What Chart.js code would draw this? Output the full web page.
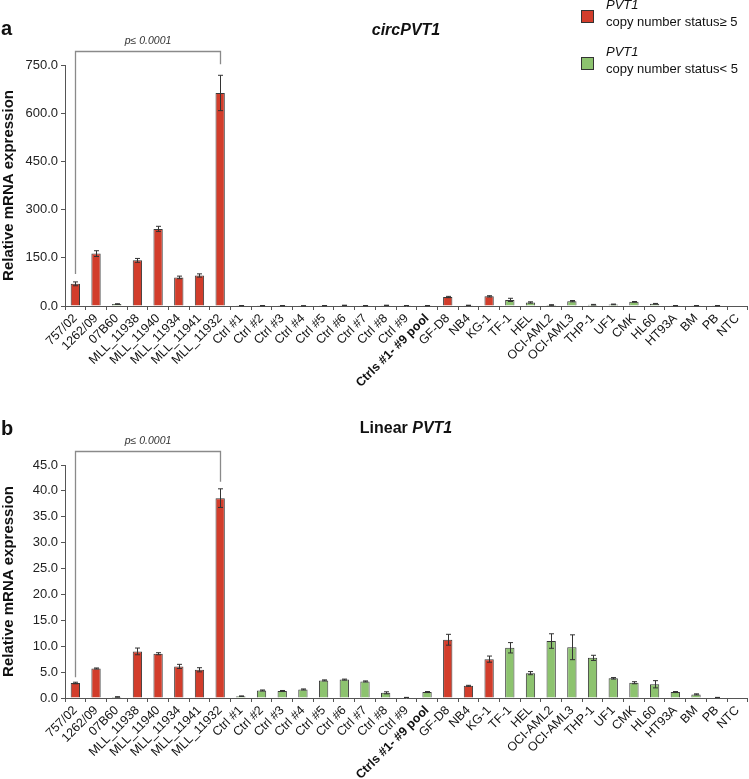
<!DOCTYPE html>
<html>
<head>
<meta charset="utf-8">
<script src="https://cdn.jsdelivr.net/npm/chart.js@4.4.1/dist/chart.umd.min.js"></script>
<style>
  body { margin: 0; background: #fff; font-family: "Liberation Sans", Arial, sans-serif; color: #111; }
  #wrap { position: relative; width: 749px; height: 779px; overflow: hidden; }
  canvas { position: absolute; left: 0; }
  .txt { position: absolute; white-space: nowrap; }
  .panel { font-weight: bold; font-size: 20px; }
  .title { font-weight: bold; font-size: 16px; width: 200px; text-align: center; }
  .pval { font-style: italic; font-size: 10.5px; color: #333; width: 100px; text-align: center; }
  .leg { font-size: 13px; line-height: 17px; }
  .sq { position: absolute; width: 11px; height: 11px; border: 1px solid #333; }
</style>
</head>
<body>
<div id="wrap">
  <canvas id="circChart" width="749" height="392" style="top:0"></canvas>
  <canvas id="linChart" width="749" height="389" style="top:390px"></canvas>

  <div class="txt panel" style="left:1px;top:17px">a</div>
  <div class="txt title" style="left:306px;top:21px"><i>circPVT1</i></div>
  <div class="txt pval" style="left:98px;top:34px"><i>p</i>≤ 0.0001</div>

  <div class="txt panel" style="left:1px;top:417px">b</div>
  <div class="txt title" style="left:306px;top:419px">Linear <i>PVT1</i></div>
  <div class="txt pval" style="left:98px;top:434px"><i>p</i>≤ 0.0001</div>

  <div class="sq" style="left:581px;top:10px;background:#d23d2b"></div>
  <div class="txt leg" style="left:606px;top:-4px"><i>PVT1</i><br>copy number status≥ 5</div>
  <div class="sq" style="left:581px;top:57px;background:#8dc36f"></div>
  <div class="txt leg" style="left:606px;top:43px"><i>PVT1</i><br>copy number status&lt; 5</div>
</div>

<script>
var categories = ["757/02", "1262/09", "07B60", "MLL_11938", "MLL_11940", "MLL_11934", "MLL_11941", "MLL_11932",
    "Ctrl #1", "Ctrl #2", "Ctrl #3", "Ctrl #4", "Ctrl #5", "Ctrl #6", "Ctrl #7", "Ctrl #8", "Ctrl #9",
    "Ctrls #1- #9 pool", "GF-D8", "NB4", "KG-1", "TF-1", "HEL", "OCI-AML2", "OCI-AML3", "THP-1", "UF1",
    "CMK", "HL60", "HT93A", "BM", "PB", "NTC"];

// copy number status >= 5 (true) or < 5 (false)
var highCopy = [true, true, false, true, true, true, true, true,
    false, false, false, false, false, false, false, false, false,
    false, true, true, true, false, false, false, false, false, false,
    false, false, false, false, false, false];

var circValues = [69, 163, 6, 142, 240, 89, 95, 663,
    1, 1, 1, 0.5, 1, 2, 1, 2, 1,
    1, 28, 2, 30, 19, 11, 3, 15, 4, 5,
    13, 7, 1, 1, 1, 0];
var circErrors = [6, 9, 1, 6, 8, 4, 5, 55,
    0.5, 0.5, 0.5, 0.3, 0.5, 0.5, 0.5, 0.5, 0.5,
    0.5, 2, 0.5, 2, 5, 2, 1, 2, 1, 1,
    1, 1, 0.5, 0.5, 0.5, 0];

var linValues = [2.9, 5.7, 0.2, 9.0, 8.55, 6.1, 5.45, 38.6,
    0.35, 1.45, 1.35, 1.65, 3.4, 3.55, 3.2, 1.0, 0.1,
    1.15, 11.25, 2.35, 7.5, 9.7, 4.8, 11.0, 9.8, 7.75, 3.8,
    2.95, 2.65, 1.15, 0.7, 0.1, 0];
var linErrors = [0.15, 0.1, 0.05, 0.65, 0.2, 0.4, 0.4, 1.8,
    0.05, 0.1, 0.1, 0.1, 0.1, 0.1, 0.1, 0.2, 0.02,
    0.1, 1.05, 0.1, 0.6, 1.0, 0.3, 1.4, 2.4, 0.5, 0.15,
    0.2, 0.7, 0.1, 0.1, 0.02, 0];

var circTicks = { max: 750, step: 150 };
var linTicks = { max: 45, step: 5 };

var RED = "#d23d2b", GREEN = "#8dc36f";
var FONT = "'Liberation Sans', Arial, sans-serif";

// error bars + significance bracket
var extras = {
    id: "extras",
    afterDatasetsDraw: function (chart, args, opts) {
        var ctx = chart.ctx;
        var x = chart.scales.x, y = chart.scales.y;
        var vals = chart.data.datasets[0].data;
        ctx.save();
        ctx.strokeStyle = "#333";
        ctx.lineWidth = 1;
        opts.errors.forEach(function (e, i) {
            if (!e) return;
            var cx = Math.round(x.getPixelForValue(i)) + 0.5;
            var top = y.getPixelForValue(vals[i] + e);
            var bot = y.getPixelForValue(Math.max(vals[i] - e, 0));
            ctx.beginPath();
            ctx.moveTo(cx, top); ctx.lineTo(cx, bot);
            ctx.moveTo(cx - 2.5, top); ctx.lineTo(cx + 2.5, top);
            ctx.moveTo(cx - 2.5, bot); ctx.lineTo(cx + 2.5, bot);
            ctx.stroke();
        });
        // bracket
        var a = opts.bracket[0], b = opts.bracket[1];
        var xa = Math.round(x.getPixelForValue(a)) + 0.5;
        var xb = Math.round(x.getPixelForValue(b)) + 0.5;
        var hy = Math.round(chart.chartArea.top - 14) + 0.5;
        var ya = y.getPixelForValue(vals[a] + opts.errors[a]) - opts.gap[0];
        var yb = y.getPixelForValue(vals[b] + opts.errors[b]) - opts.gap[1];
        ctx.strokeStyle = "#8a8a8a";
        ctx.lineWidth = 1.3;
        ctx.beginPath();
        ctx.moveTo(xa, ya); ctx.lineTo(xa, hy); ctx.lineTo(xb, hy); ctx.lineTo(xb, yb);
        ctx.stroke();
        ctx.restore();
    }
};

function makeChart(id, values, errors, ticksDef, padTop, xHeight, gap) {
    var ctx = document.getElementById(id).getContext("2d");
    return new Chart(ctx, {
        type: "bar",
        data: {
            labels: categories,
            datasets: [{
                data: values,
                backgroundColor: highCopy.map(function (h) { return h ? RED : GREEN; }),
                borderColor: "#3a3a3a",
                borderWidth: 1,
                barPercentage: 0.45,
                categoryPercentage: 1.0
            }]
        },
        options: {
            responsive: false,
            animation: false,
            devicePixelRatio: 1,
            layout: { padding: { top: padTop, right: 1, left: 0, bottom: 0 } },
            scales: {
                x: {
                    afterFit: function (scale) { scale.height = xHeight; },
                    grid: { drawOnChartArea: false, offset: true, tickLength: 4, color: "#555" },
                    border: { color: "#555" },
                    ticks: {
                        autoSkip: false,
                        minRotation: 45,
                        maxRotation: 45,
                        padding: 1,
                        color: "#111",
                        font: function (c) {
                            return { family: FONT, size: 12.5, weight: c.index === 17 ? "bold" : "normal" };
                        }
                    }
                },
                y: {
                    min: 0,
                    max: ticksDef.max,
                    afterFit: function (scale) { scale.width = 65; },
                    grid: { drawOnChartArea: false, tickLength: 4, color: "#555" },
                    border: { color: "#555" },
                    ticks: {
                        stepSize: ticksDef.step,
                        padding: 3,
                        color: "#222",
                        font: { family: FONT, size: 13 },
                        callback: function (v) { return v.toFixed(1); }
                    },
                    title: {
                        display: true,
                        text: "Relative mRNA expression",
                        color: "#111",
                        font: { family: FONT, size: 15, weight: "bold" },
                        padding: { top: 0, bottom: 4 }
                    }
                }
            },
            plugins: {
                legend: { display: false },
                tooltip: { enabled: false },
                extras: { errors: errors, bracket: [0, 7], gap: gap }
            }
        },
        plugins: [extras]
    });
}

makeChart("circChart", circValues, circErrors, circTicks, 65, 86, [8, 11]);
makeChart("linChart", linValues, linErrors, linTicks, 75, 81, [5, 7]);
</script>
</body>
</html>
